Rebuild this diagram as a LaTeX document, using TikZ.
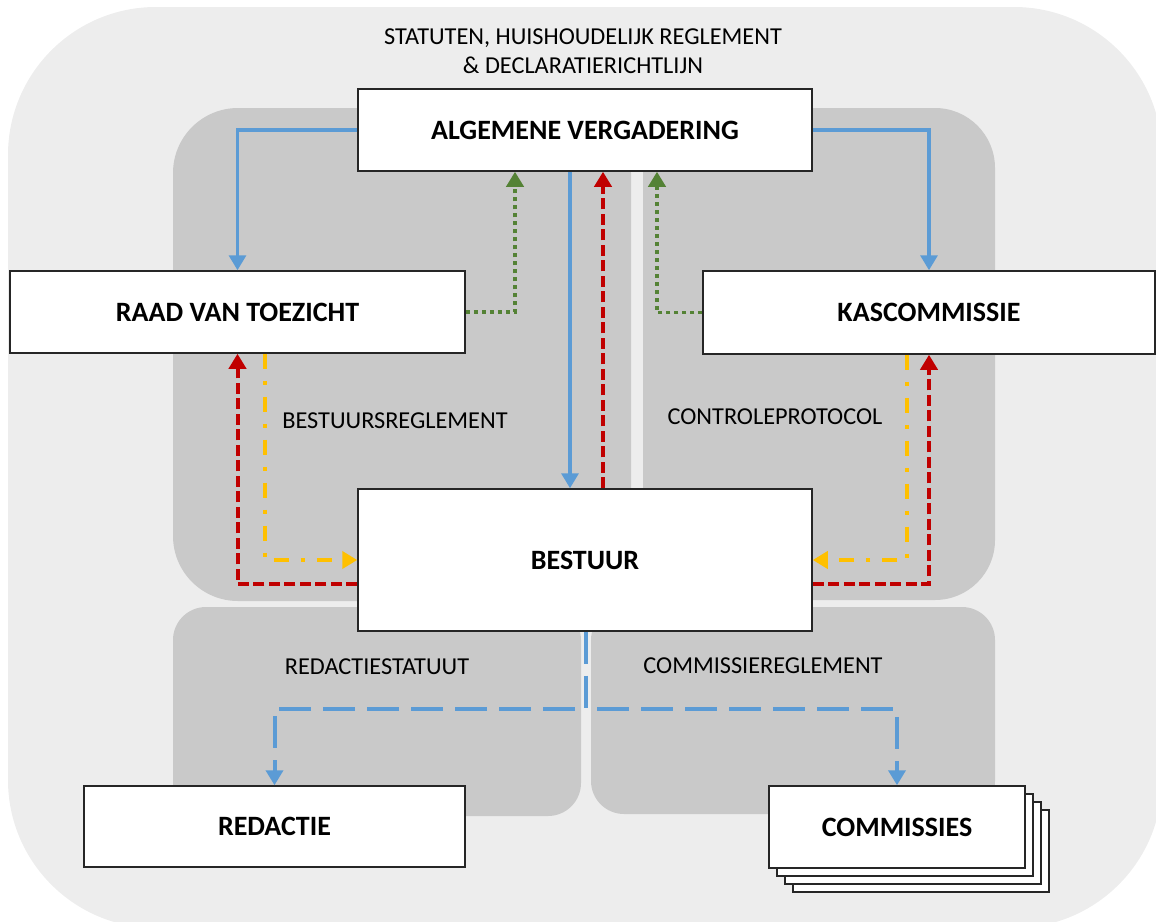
\documentclass[tikz,border=0pt]{standalone}
\usepackage{fontspec}
\setmainfont{Carlito}
\usetikzlibrary{arrows.meta}
\definecolor{bgouter}{HTML}{EDEDED}
\definecolor{panelgray}{HTML}{C9C9C9}
\definecolor{cblue}{HTML}{5B9BD5}
\definecolor{cgreen}{HTML}{548235}
\definecolor{cred}{HTML}{C00000}
\definecolor{cyellow}{HTML}{FFC000}
\definecolor{boxline}{HTML}{262626}
\begin{document}
\begin{tikzpicture}[x=1pt,y=-1pt,
  box/.style={draw=boxline, line width=1.5pt, fill=white, rectangle, inner sep=0pt,
    font=\fontsize{28}{33}\selectfont\bfseries},
  lbl/.style={font=\fontsize{24.3}{29.5}\selectfont, inner sep=0pt, align=center},
  tipend/.style={-{Triangle[width=17pt,length=15pt]}},
  bluesolid/.style={draw=cblue, line width=3.3pt, tipend},
  greendot/.style={draw=cgreen, line width=3.8pt, dash pattern=on 4pt off 4pt, tipend},
  reddash/.style={draw=cred, line width=4pt, dash pattern=on 11pt off 4.5pt, tipend},
  yellowdd/.style={draw=cyellow, line width=4pt, dash pattern=on 15pt off 12pt on 4pt off 12pt, tipend},
  bluedash/.style={draw=cblue, line width=4pt, dash pattern=on 32pt off 12pt, tipend}
]
\useasboundingbox (0,0) rectangle (1156,921);
% backgrounds
\fill[bgouter, rounded corners=148pt] (8,7) rectangle (1162,928);
\fill[panelgray, rounded corners=65pt] (173,108) rectangle (631,601);
\fill[panelgray, rounded corners=60pt] (643,108) rectangle (995,600);
\fill[panelgray, rounded corners=33pt] (173,607) rectangle (581,816);
\fill[panelgray, rounded corners=33pt] (591,607) rectangle (995,814);

% labels
\node[lbl] (statuten) at (583,51) {STATUTEN, HUISHOUDELIJK REGLEMENT\\\& DECLARATIERICHTLIJN};
\node[lbl] (bestreg) at (395,420.5) {BESTUURSREGLEMENT};
\node[lbl] (contr) at (775,417) {CONTROLEPROTOCOL};
\node[lbl] (redstat) at (377,667) {REDACTIESTATUUT};
\node[lbl] (comreg) at (763,666) {COMMISSIEREGLEMENT};

% boxes
\node[box, minimum width=454pt, minimum height=82pt] (av) at (585,130) {ALGEMENE VERGADERING};
\node[box, minimum width=455pt, minimum height=82pt] (rvt) at (237.5,312) {RAAD VAN TOEZICHT};
\node[box, minimum width=452pt, minimum height=83pt] (kas) at (929,312.5) {KASCOMMISSIE};
\node[box, minimum width=454pt, minimum height=142pt] (bestuur) at (585,560) {BESTUUR};
\node[box, minimum width=381pt, minimum height=81pt] (redactie) at (274.5,826.5) {REDACTIE};
\node[box, minimum width=256pt, minimum height=82pt] (com3) at (921,851) {};
\node[box, minimum width=256pt, minimum height=82pt] (com2) at (913,843) {};
\node[box, minimum width=256pt, minimum height=82pt] (com1) at (905,835) {};
\node[box, minimum width=256pt, minimum height=82pt] (commissies) at (897,827) {COMMISSIES};

% connectors
\draw[bluesolid] (av.west) -| (rvt.north);
\draw[bluesolid] (av.east) -| (kas.north);
\draw[bluesolid] ([xshift=-15pt]av.south) -- ([xshift=-15pt]bestuur.north);

\draw[greendot] (rvt.east) -| ([xshift=-70pt]av.south);
\draw[greendot] (kas.west) -| ([xshift=72pt]av.south);

\draw[reddash] ([xshift=18pt]bestuur.north) -- ([xshift=18pt]av.south);
\draw[reddash] ([yshift=-24pt]bestuur.west) -| (rvt.south);
\draw[reddash] ([yshift=-24pt]bestuur.east) -| (kas.south);

\draw[yellowdd] ([xshift=27.5pt]rvt.south) |- (bestuur.west);
\draw[yellowdd] ([xshift=-22pt]kas.south) |- (bestuur.east);

\coordinate (split) at ([xshift=1pt,yshift=-77pt]bestuur.south);
\draw[bluedash] ([xshift=1pt]bestuur.south) -- (split) -| (redactie.north);
\draw[bluedash] ([xshift=1pt]bestuur.south) -- (split) -| (commissies.north);
\end{tikzpicture}
\end{document}
